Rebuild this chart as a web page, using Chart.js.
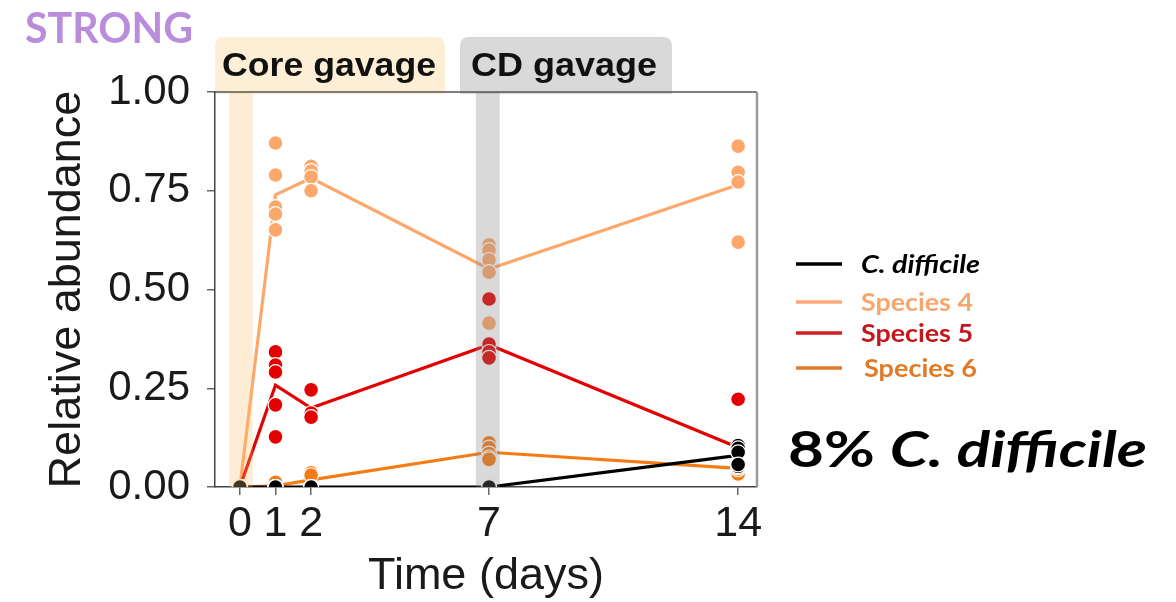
<!DOCTYPE html>
<html>
<head>
<meta charset="utf-8">
<script src="https://cdn.jsdelivr.net/npm/chart.js@4.4.1/dist/chart.umd.min.js"></script>
<style>
  html, body { margin: 0; padding: 0; background: #ffffff; }
  #wrap { width: 1176px; height: 602px; position: relative; }
</style>
</head>
<body>
<div id="wrap"><canvas id="c" width="1176" height="602"></canvas></div>
<script>
// Sampling days and y-axis ticks
const days = [0, 1, 2, 7, 14];
const yTicks = [0, 0.25, 0.5, 0.75, 1.0];

// Individual replicate values, one inner list per sampling day
const cdiffPoints = [
  [0, 0, 0, 0, 0],
  [0, 0, 0, 0, 0],
  [0, 0, 0, 0],
  [0, 0, 0, 0, 0],
  [0.105, 0.098, 0.088, 0.052, 0.057]
];
const species4Points = [
  [0, 0, 0, 0, 0],
  [0.871, 0.790, 0.709, 0.691, 0.651],
  [0.812, 0.800, 0.785, 0.750],
  [0.613, 0.600, 0.575, 0.544, 0.415],
  [0.863, 0.797, 0.772, 0.620]
];
const species5Points = [
  [0, 0, 0, 0, 0],
  [0.342, 0.309, 0.291, 0.208, 0.127],
  [0.246, 0.187, 0.177],
  [0.476, 0.362, 0.342, 0.327],
  [0.222, 0.090, 0.060, 0.040]
];
const species6Points = [
  [0, 0, 0, 0, 0],
  [0.012, 0, 0, 0],
  [0.036, 0.030, 0, 0],
  [0.112, 0.100, 0.085, 0.075, 0.070],
  [0.033, 0.045, 0.050, 0.060]
];

// Mean trajectories
const cdiffMean    = [0, 0, 0, 0, 0.08];
const species4Mean = [0, 0.740, 0.782, 0.552, 0.765];
const species5Mean = [0, 0.258, 0.200, 0.360, 0.100];
const species6Mean = [0, 0.003, 0.018, 0.088, 0.047];

// Gavage windows (days)
const coreBand = [-0.30, 0.36];
const cdBand   = [6.63, 7.30];

const seriesLabels = ['C. difficile', 'Species 4', 'Species 5', 'Species 6'];
const seriesColors = ['#000000', '#fca86c', '#e40000', '#f57c14'];
const legendLineColors = ['#000000', '#fca877', '#d21f26', '#e27b2a'];
const legendTextColors = ['#000000', '#f8a66e', '#c4161c', '#e07a26'];

function toXY(lists) {
  const out = [];
  lists.forEach((vals, i) => vals.forEach(v => out.push({ x: days[i], y: v })));
  return out;
}
function meanXY(vals) {
  return vals.map((v, i) => ({ x: days[i], y: v }));
}

const pointSets = [cdiffPoints, species4Points, species5Points, species6Points];
const meanSets = [cdiffMean, species4Mean, species5Mean, species6Mean];

const datasets = [];
// lines behind the dots
[1, 2, 3, 0].forEach((k, j) => {
  datasets.push({
    type: 'line',
    label: seriesLabels[k] + ' mean',
    data: meanXY(meanSets[k]),
    borderColor: seriesColors[k],
    borderWidth: 3.2,
    pointRadius: 0,
    tension: 0,
    fill: false,
    clip: 0,
    order: 20 - j
  });
});
// replicate dots, C. difficile on top
[1, 2, 3, 0].forEach((k, j) => {
  datasets.push({
    type: 'scatter',
    label: seriesLabels[k],
    data: toXY(pointSets[k]),
    backgroundColor: seriesColors[k],
    borderColor: '#ffffff',
    borderWidth: 1.2,
    pointRadius: 7.4,
    clip: 0,
    order: 10 - j
  });
});

const AXIS_FONT = "'Liberation Sans', Arial, sans-serif";
const CAL_FONT = "Lato, 'Open Sans', sans-serif";

function roundRectTop(ctx, x, y, w, h, r) {
  ctx.beginPath();
  ctx.moveTo(x, y + h);
  ctx.lineTo(x, y + r);
  ctx.quadraticCurveTo(x, y, x + r, y);
  ctx.lineTo(x + w - r, y);
  ctx.quadraticCurveTo(x + w, y, x + w, y + r);
  ctx.lineTo(x + w, y + h);
  ctx.closePath();
}

// draws text starting at x, stretched horizontally to the given width
function stretchText(ctx, parts, x, y, width) {
  let total = 0;
  parts.forEach(p => { ctx.font = p.font; total += ctx.measureText(p.text).width; });
  const sx = width / total;
  ctx.save();
  ctx.translate(x, y);
  ctx.scale(sx, 1);
  let cx = 0;
  parts.forEach(p => {
    ctx.font = p.font;
    ctx.fillStyle = p.color;
    ctx.fillText(p.text, cx, 0);
    cx += ctx.measureText(p.text).width;
  });
  ctx.restore();
}

const decorations = {
  id: 'decorations',
  beforeDraw(chart) {
    const ctx = chart.ctx;
    const ca = chart.chartArea;
    ctx.save();
    ctx.fillStyle = '#ffffff';
    ctx.fillRect(0, 0, chart.width, chart.height);

    // header boxes
    ctx.fillStyle = '#fdefd6';
    roundRectTop(ctx, ca.left, 37, 230, ca.top - 37 + 2, 9);
    ctx.fill();
    ctx.fillStyle = '#d9d9d9';
    roundRectTop(ctx, 460, 37, 212, ca.top - 37 + 2, 9);
    ctx.fill();

    ctx.textBaseline = 'alphabetic';
    ctx.textAlign = 'left';
    const hdr = `bold 33px ${AXIS_FONT}`;
    stretchText(ctx, [{ text: 'Core gavage', font: hdr, color: '#111111' }], 222, 76, 214);
    stretchText(ctx, [{ text: 'CD gavage', font: hdr, color: '#111111' }], 471, 76, 186);

    // panel tag
    stretchText(ctx, [{ text: 'STRONG', font: `bold 42px ${CAL_FONT}`, color: '#b98ddc' }], 25, 43, 168);

    // legend
    const lx0 = 796, lx1 = 842;
    const rows = [264, 302, 333, 368];
    const widths = [119, 112, 112, 113];
    rows.forEach((y, i) => {
      ctx.strokeStyle = legendLineColors[i];
      ctx.lineWidth = 3.5;
      ctx.beginPath();
      ctx.moveTo(lx0, y);
      ctx.lineTo(lx1, y);
      ctx.stroke();
      const f = i === 0 ? `italic bold 24px ${CAL_FONT}` : `bold 24px ${CAL_FONT}`;
      stretchText(ctx, [{ text: seriesLabels[i], font: f, color: legendTextColors[i] }],
        i === 3 ? 864 : 861, y + 9, widths[i]);
    });

    // summary callout
    const pct = Math.round(cdiffMean[cdiffMean.length - 1] * 100) + '% ';
    stretchText(ctx, [
      { text: pct, font: `bold 50px ${CAL_FONT}`, color: '#000000' },
      { text: 'C. difficile', font: `italic bold 50px ${CAL_FONT}`, color: '#000000' }
    ], 788, 467, 359);
    ctx.restore();
  },
  afterDatasetsDraw(chart) {
    const ctx = chart.ctx;
    const ca = chart.chartArea;
    const xs = chart.scales.x;
    ctx.save();
    // gavage windows overlaid on the data
    ctx.fillStyle = 'rgba(250,190,100,0.28)';
    let a = xs.getPixelForValue(coreBand[0]), b = xs.getPixelForValue(coreBand[1]);
    ctx.fillRect(a, ca.top, b - a, ca.bottom - ca.top);
    ctx.fillStyle = 'rgba(128,128,128,0.30)';
    a = xs.getPixelForValue(cdBand[0]); b = xs.getPixelForValue(cdBand[1]);
    ctx.fillRect(a, ca.top, b - a, ca.bottom - ca.top);

    // top and right frame
    ctx.strokeStyle = '#555555';
    ctx.lineWidth = 1.5;
    ctx.beginPath();
    ctx.moveTo(ca.left, ca.top);
    ctx.lineTo(ca.right, ca.top);
    ctx.stroke();
    ctx.strokeStyle = '#9a9a9a';
    ctx.lineWidth = 2.5;
    ctx.beginPath();
    ctx.moveTo(ca.right, ca.top);
    ctx.lineTo(ca.right, ca.bottom);
    ctx.stroke();
    ctx.restore();
  }
};

new Chart(document.getElementById('c'), {
  type: 'scatter',
  data: { datasets },
  plugins: [decorations],
  options: {
    responsive: false,
    animation: false,
    devicePixelRatio: 1,
    layout: { padding: { left: 0, top: 92, right: 419, bottom: 0 } },
    plugins: { legend: { display: false }, tooltip: { enabled: false } },
    scales: {
      x: {
        type: 'linear',
        min: -0.7,
        max: 14.53,
        afterFit(scale) { scale.height = 115; },
        afterBuildTicks(scale) { scale.ticks = days.map(v => ({ value: v })); },
        ticks: {
          autoSkip: false,
          maxRotation: 0,
          padding: 3,
          color: '#1a1a1a',
          font: { family: AXIS_FONT, size: 43 },
          callback: v => String(v)
        },
        grid: { display: true, drawOnChartArea: false, drawTicks: true, tickLength: 8, color: '#666666', lineWidth: 1.5 },
        border: { display: true, color: '#444444', width: 1.5 },
        title: {
          display: true,
          text: 'Time (days)',
          color: '#1a1a1a',
          font: { family: AXIS_FONT, size: 45, lineHeight: 1 },
          padding: { top: 0, bottom: 3 }
        }
      },
      y: {
        type: 'linear',
        min: 0,
        max: 1,
        afterFit(scale) { scale.width = 215; },
        afterBuildTicks(scale) { scale.ticks = yTicks.map(v => ({ value: v })); },
        ticks: {
          padding: 17,
          color: '#1a1a1a',
          font: { family: AXIS_FONT, size: 42 },
          callback: v => Number(v).toFixed(2)
        },
        grid: { display: true, drawOnChartArea: false, drawTicks: true, tickLength: 8, color: '#666666', lineWidth: 1.5 },
        border: { display: true, color: '#444444', width: 1.5 },
        title: {
          display: true,
          text: 'Relative abundance',
          color: '#1a1a1a',
          font: { family: AXIS_FONT, size: 45, lineHeight: 1 },
          padding: { top: 45, bottom: 0 }
        }
      }
    }
  }
});
</script>
</body>
</html>
